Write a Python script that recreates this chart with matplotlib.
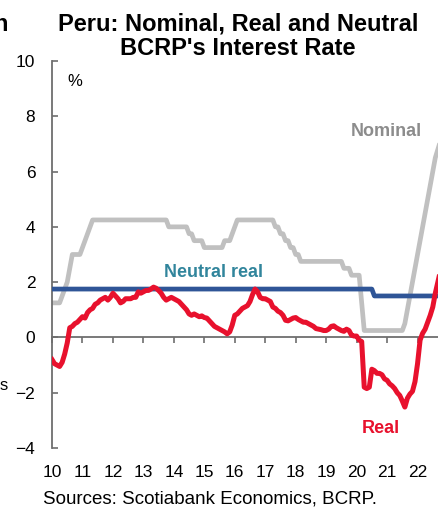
import numpy as np
import matplotlib
matplotlib.use('Agg')
import matplotlib.pyplot as plt

plt.rcParams['font.family'] = ['Liberation Sans', 'DejaVu Sans']

# monthly data, Jan-2010 .. Oct-2022 (%)
nominal_rate = [
    1.25, 1.25, 1.25, 1.25, 1.5, 1.75, 2.0, 2.5, 3.0, 3.0, 3.0, 3.0,          # 2010
    3.25, 3.5, 3.75, 4.0, 4.25, 4.25, 4.25, 4.25, 4.25, 4.25, 4.25, 4.25,     # 2011
    4.25, 4.25, 4.25, 4.25, 4.25, 4.25, 4.25, 4.25, 4.25, 4.25, 4.25, 4.25,   # 2012
    4.25, 4.25, 4.25, 4.25, 4.25, 4.25, 4.25, 4.25, 4.25, 4.25, 4.0, 4.0,     # 2013
    4.0, 4.0, 4.0, 4.0, 4.0, 4.0, 3.75, 3.75, 3.5, 3.5, 3.5, 3.5,             # 2014
    3.25, 3.25, 3.25, 3.25, 3.25, 3.25, 3.25, 3.25, 3.5, 3.5, 3.5, 3.75,      # 2015
    4.0, 4.25, 4.25, 4.25, 4.25, 4.25, 4.25, 4.25, 4.25, 4.25, 4.25, 4.25,    # 2016
    4.25, 4.25, 4.25, 4.25, 4.0, 4.0, 3.75, 3.75, 3.5, 3.5, 3.25, 3.25,       # 2017
    3.0, 3.0, 2.75, 2.75, 2.75, 2.75, 2.75, 2.75, 2.75, 2.75, 2.75, 2.75,     # 2018
    2.75, 2.75, 2.75, 2.75, 2.75, 2.75, 2.75, 2.5, 2.5, 2.5, 2.25, 2.25,      # 2019
    2.25, 2.25, 1.25, 0.25, 0.25, 0.25, 0.25, 0.25, 0.25, 0.25, 0.25, 0.25,   # 2020
    0.25, 0.25, 0.25, 0.25, 0.25, 0.25, 0.25, 0.5, 1.0, 1.5, 2.0, 2.5,        # 2021
    3.0, 3.5, 4.0, 4.5, 5.0, 5.5, 6.0, 6.5, 6.8, 7.1,                         # 2022
]
real_rate = [
    -0.8, -0.95, -1.0, -1.05, -0.9, -0.6, -0.2, 0.35, 0.4, 0.5, 0.55, 0.65,   # 2010
    0.75, 0.7, 0.9, 1.0, 1.05, 1.2, 1.25, 1.35, 1.4, 1.45, 1.35, 1.45,        # 2011
    1.6, 1.5, 1.4, 1.25, 1.3, 1.4, 1.4, 1.4, 1.45, 1.45, 1.65, 1.6,          # 2012
    1.65, 1.7, 1.7, 1.75, 1.82, 1.78, 1.7, 1.6, 1.45, 1.35, 1.4, 1.45,        # 2013
    1.4, 1.35, 1.3, 1.2, 1.1, 1.0, 0.85, 0.8, 0.85, 0.8, 0.75, 0.78,          # 2014
    0.72, 0.7, 0.6, 0.5, 0.4, 0.35, 0.3, 0.25, 0.2, 0.13, 0.2, 0.45,          # 2015
    0.8, 0.85, 0.95, 1.05, 1.1, 1.15, 1.3, 1.55, 1.75, 1.65, 1.45, 1.4,       # 2016
    1.4, 1.35, 1.3, 1.1, 1.05, 0.95, 0.9, 0.8, 0.62, 0.6, 0.65, 0.7,          # 2017
    0.72, 0.65, 0.6, 0.55, 0.55, 0.5, 0.45, 0.4, 0.32, 0.3, 0.28, 0.25,       # 2018
    0.25, 0.3, 0.4, 0.42, 0.35, 0.3, 0.25, 0.22, 0.3, 0.25, 0.08, 0.05,       # 2019
    0.05, -0.1, -0.15, -1.8, -1.85, -1.8, -1.15, -1.2, -1.3, -1.3, -1.35, -1.5,  # 2020
    -1.55, -1.68, -1.75, -1.85, -2.0, -2.1, -2.3, -2.52, -2.2, -2.05, -1.95, -1.6,  # 2021
    -0.95, -0.1, 0.15, 0.3, 0.55, 0.8, 1.1, 1.6, 2.0, 2.4,                    # 2022
]
# neutral real rate: (decimal year, level)
neutral_x = [2010.0, 2020.5, 2020.583, 2022.75]
neutral_rate = [1.75, 1.75, 1.5, 1.5]

years = list(range(2010, 2023))
year_labels = ['%02d' % (y % 100) for y in years]

dates = 2010 + np.arange(len(nominal_rate)) / 12.0

W, H = 438, 508
fig = plt.figure(figsize=(W / 100, H / 100), dpi=100)
# axes right edge runs past the picture (cropped chart)
ax = fig.add_axes([52 / W, (H - 448) / H, 396 / W, 387 / H])

grey, red, blue = '#c0c0c0', '#e8112d', '#2f5597'
ax.plot(dates, nominal_rate, color=grey, lw=3.4, zorder=2)
ax.plot(neutral_x, neutral_rate, color=blue, lw=3.4, zorder=3)
ax.plot(dates, real_rate, color=red, lw=3.6, zorder=4)

ax.set_xlim(2010, 2023)
ax.set_ylim(-4, 10)

for s in ['top', 'right']:
    ax.spines[s].set_visible(False)
ax.spines['left'].set_color('#6e6e6e')
ax.spines['left'].set_linewidth(1.3)
ax.spines['bottom'].set_position(('data', 0))
ax.spines['bottom'].set_color('#6e6e6e')
ax.spines['bottom'].set_linewidth(1.3)

ax.set_yticks(range(-4, 11, 2))
ax.tick_params(axis='y', direction='in', length=4, width=1.2, color='#6e6e6e',
               pad=12, labelsize=12.5)
ax.set_xticks(years)
ax.tick_params(axis='x', direction='out', length=4, width=1.2, color='#6e6e6e',
               labelbottom=False)
for y, lab in zip(years, year_labels):
    ax.text(y, -4 - 29 / 27.64, lab, ha='center', va='baseline', fontsize=12.5)

ax.text(2010.49, 9.09, '%', fontsize=12, va='baseline')
ax.text(2020.98, 7.28, 'Nominal', color='#8c8c8c', fontsize=13,
        fontweight='bold', ha='center', va='baseline')
ax.text(2015.31, 2.17, 'Neutral real', color='#31859c', fontsize=13,
        fontweight='bold', ha='center', va='baseline')
ax.text(2020.79, -3.44, 'Real', color=red, fontsize=13,
        fontweight='bold', ha='center', va='baseline')

fig.text(238 / W, 1 - 31 / H, 'Peru: Nominal, Real and Neutral', fontsize=17,
         fontweight='bold', ha='center', va='baseline')
fig.text(238 / W, 1 - 55 / H, "BCRP's Interest Rate", fontsize=17,
         fontweight='bold', ha='center', va='baseline')
fig.text(43 / W, 1 - 503 / H, 'Sources: Scotiabank Economics, BCRP.',
         fontsize=13.5, ha='left', va='baseline')

# bits of the neighbouring chart at the left edge
fig.text(7.5 / W, 1 - 31 / H, 'h', fontsize=17, fontweight='bold',
         ha='right', va='baseline')
fig.text(7.5 / W, 1 - 390 / H, 's', fontsize=12, ha='right', va='baseline')

fig.savefig('out.png', dpi=100)
